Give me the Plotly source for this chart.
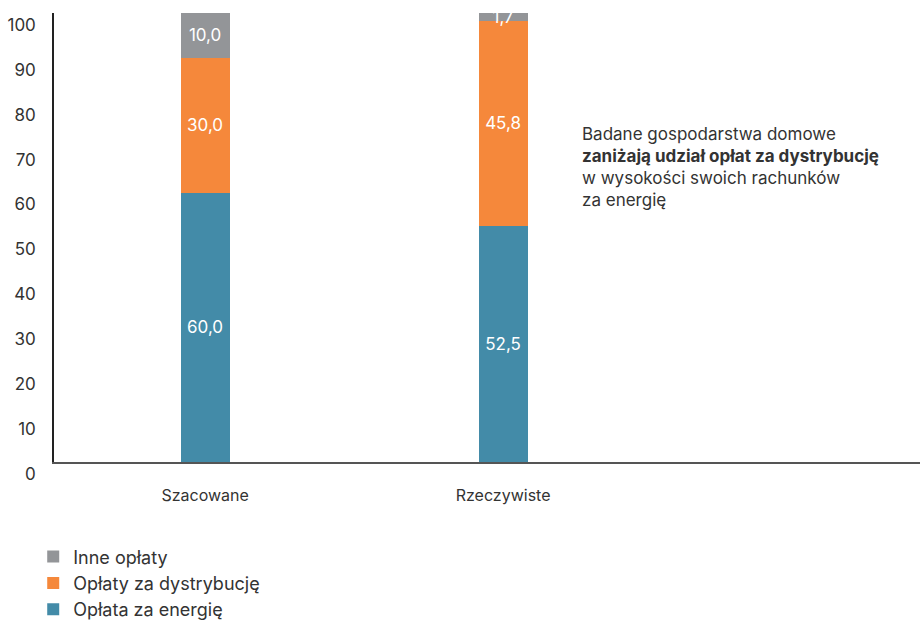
import plotly.graph_objects as go

categories = ["Szacowane", "Rzeczywiste"]
energia = [60.0, 52.5]
dystrybucja = [30.0, 45.8]
inne = [10.0, 1.7]
series_names = ["Opłata za energię", "Opłaty za dystrybucję", "Inne opłaty"]
colors = ["#438BA8", "#F5883B", "#939598"]
y_ticks = [0, 10, 20, 30, 40, 50, 60, 70, 80, 90, 100]
note = ("Badane gospodarstwa domowe<br><b>zaniżają udział opłat za dystrybucję</b>"
        "<br>w wysokości swoich rachunków<br>za energię")

FONT = "Inter"
fig = go.Figure()
for name, vals, col in zip(series_names, [energia, dystrybucja, inne], colors):
    fig.add_trace(go.Bar(
        x=categories, y=vals, name=name, marker=dict(color=col, line=dict(width=0)),
        width=0.164, text=[f"{v:.1f}".replace(".", ",") for v in vals],
        textposition="inside", insidetextanchor="middle", constraintext="none",
        textangle=0,
        textfont=dict(color="white", size=17, family=FONT), cliponaxis=True,
        hoverinfo="skip",
    ))

fig.update_layout(
    barmode="stack",
    width=920, height=623,
    margin=dict(l=54, r=0, t=13, b=161, autoexpand=False),
    paper_bgcolor="white", plot_bgcolor="white",
    font=dict(family=FONT, size=16, color="#333333"),
    showlegend=True,
    legend=dict(traceorder="reversed", orientation="v",
                x=-0.024, y=-0.17, xanchor="left", yanchor="top",
                font=dict(size=18, color="#333333", family=FONT), itemsizing="constant",
                bgcolor="rgba(0,0,0,0)"),
    xaxis=dict(range=[-0.507, 2.399], showgrid=False, showline=True, linecolor="#555555",
               linewidth=1.5, ticks="", ticklabelstandoff=18, automargin=False,
               tickfont=dict(size=16, color="#333333"), zeroline=False),
    yaxis=dict(range=[0, 100], tickvals=y_ticks, showgrid=False, showline=True,
               linecolor="#222222", linewidth=1.5, ticks="", zeroline=False,
               ticklabelposition="outside bottom", ticklabelstandoff=13, automargin=False,
               tickfont=dict(size=17, color="#333333")),
    annotations=[dict(text=note, xref="paper", yref="paper", x=0.6074, y=0.758,
                      xanchor="left", yanchor="top", align="left", showarrow=False,
                      font=dict(size=17, color="#333333", family=FONT))],
)

fig.write_html("out.html")
